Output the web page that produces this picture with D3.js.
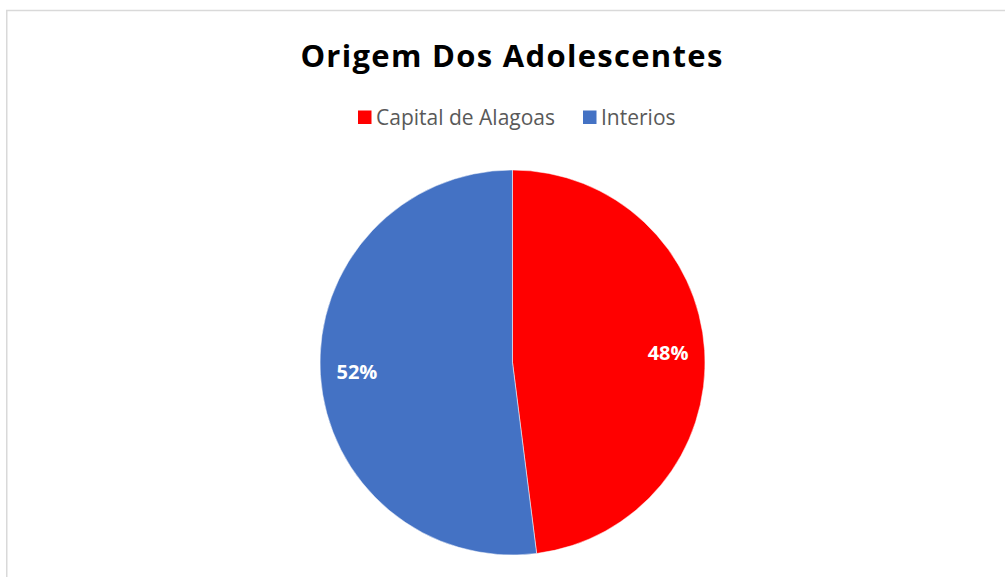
<!DOCTYPE html>
<html>
<head>
<meta charset="utf-8">
<script src="https://cdn.jsdelivr.net/npm/d3@7"></script>
<style>
  html, body { margin: 0; padding: 0; background: #fff; }
  svg { display: block; }
</style>
</head>
<body>
<svg id="chart" width="1005" height="577"></svg>
<script>
// Chart data
const categories = ["Capital de Alagoas", "Interios"];
const values = [48, 52];
const colors = ["#ff0000", "#4472c4"];
const title = "Origem Dos Adolescentes";

const W = 1005, H = 577;
const svg = d3.select("#chart");

// Chart area frame (extends past the right and bottom edges)
svg.append("rect")
  .attr("x", 6.75).attr("y", 10.5)
  .attr("width", W + 20).attr("height", H + 20)
  .attr("fill", "#fff")
  .attr("stroke", "#d9d9d9")
  .attr("stroke-width", 1.5);

// Title
svg.append("text")
  .attr("x", 512).attr("y", 67)
  .attr("text-anchor", "middle")
  .attr("font-family", "'Open Sans', sans-serif")
  .attr("font-weight", 700)
  .attr("font-size", 31)
  .attr("fill", "#000")
  .attr("letter-spacing", 1.3)
  .text(title);

// Legend
const legend = svg.append("g").attr("font-family", "'Open Sans', sans-serif");
const legendItems = [
  { x: 358, label: categories[0], color: colors[0] },
  { x: 583, label: categories[1], color: colors[1] }
];
legendItems.forEach(d => {
  legend.append("rect")
    .attr("x", d.x).attr("y", 110.5)
    .attr("width", 13.5).attr("height", 13.5)
    .attr("fill", d.color);
  legend.append("text")
    .attr("x", d.x + 18).attr("y", 124.5)
    .attr("font-size", 21)
    .attr("fill", "#595959")
    .text(d.label);
});

// Pie
const cx = 512.5, cy = 362.5, R = 192.5;
const pie = d3.pie().sort(null).value(d => d);
const arcs = pie(values);
const arc = d3.arc().innerRadius(0).outerRadius(R);
const labelArc = d3.arc().innerRadius(R * 0.81).outerRadius(R * 0.81);

const g = svg.append("g").attr("transform", `translate(${cx},${cy})`);
g.selectAll("path.slice")
  .data(arcs)
  .join("path")
  .attr("class", "slice")
  .attr("d", arc)
  .attr("fill", (d, i) => colors[i])
  .attr("stroke", "#fff")
  .attr("stroke-width", 0.5);

g.selectAll("text.label")
  .data(arcs)
  .join("text")
  .attr("class", "label")
  .attr("transform", d => `translate(${labelArc.centroid(d)})`)
  .attr("text-anchor", "middle")
  .attr("dy", "0.35em")
  .attr("font-family", "'Open Sans', sans-serif")
  .attr("font-weight", 700)
  .attr("font-size", 20)
  .attr("fill", "#fff")
  .text(d => d.data + "%");
</script>
</body>
</html>
